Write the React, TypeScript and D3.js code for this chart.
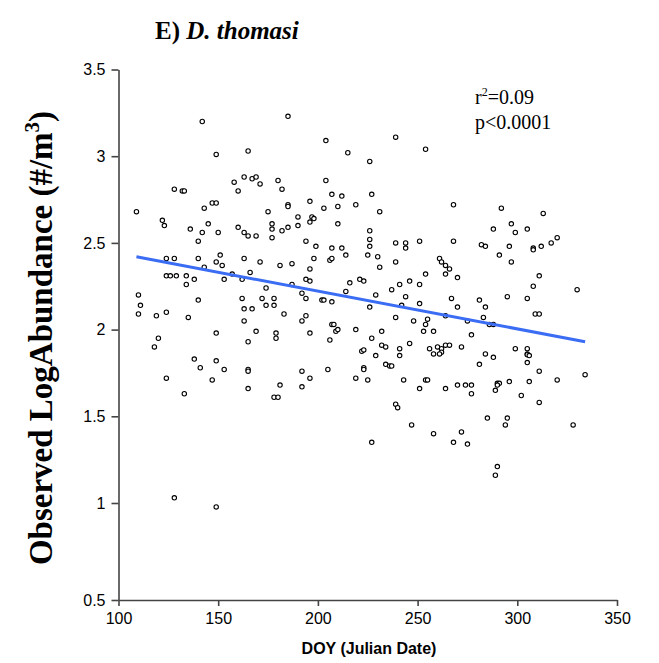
import React, { useRef, useEffect } from "react";
import * as d3 from "d3";

// DOY (x) and observed log abundance (y)
const doy = [
  142, 149, 128, 132, 133, 109, 147, 149, 143, 122, 123, 145, 136, 142, 150, 140,
  185, 204, 165, 158, 163, 167, 169, 171, 160, 180, 182, 204, 207, 196, 203, 175, 185, 185, 190, 197, 198, 196, 190, 185, 177, 177, 182, 160, 163, 165, 169, 177, 194, 199, 207,
  239, 254, 215, 226, 227, 212, 210, 219, 231, 210, 226, 226, 226, 212, 239, 244, 244, 251,
  268, 292, 313, 297, 288, 299, 305, 268, 282, 284, 296, 308, 312, 317, 320,
  124, 128, 140, 149, 143, 124, 126, 129, 134, 134, 138, 110, 111, 110, 119, 124, 140, 135, 149, 120, 118, 138, 149, 141, 124, 147,
  151, 152, 153, 157, 163, 171, 181, 187, 198, 206, 207, 196, 166, 162, 174, 187, 194, 196, 192, 194, 202, 203, 207, 162, 172, 178, 178, 174, 163, 167, 183, 163, 192, 194, 207, 169, 179, 179, 165, 196, 206, 153, 165, 165, 192, 205, 196, 181, 192, 165,
  214, 225, 230, 231, 239, 261, 262, 264, 254, 264, 216, 221, 223, 241, 246, 251, 237, 214, 229, 244, 226, 242, 251, 239, 248, 255, 254, 264, 253, 258, 208, 209, 210, 219, 232, 227, 232, 234, 246, 241, 222, 223, 229, 241, 256, 260, 262, 262, 261, 258, 264, 234, 236, 237, 223, 223, 219, 225, 243, 254, 255, 251, 264,
  291, 297, 308, 311, 266, 270, 308, 267, 295, 305, 281, 284, 270, 309, 311, 283, 275, 286, 288, 277, 266, 272, 299, 305, 305, 305, 306, 284, 288, 281, 305, 311, 270, 274, 277, 290, 291, 290, 296, 306, 320, 289,
  133, 128, 149, 178, 180, 239, 240, 247, 258, 227,
  277, 302, 311, 285, 295, 294, 272, 268, 275, 290, 289,
  330, 328, 334,
];
const logAbundance = [
  3.2, 3.01, 2.81, 2.8, 2.8, 2.68, 2.73, 2.73, 2.7, 2.63, 2.6, 2.61, 2.58, 2.56, 2.56, 2.51,
  3.23, 3.09, 3.03, 2.85, 2.88, 2.87, 2.88, 2.84, 2.8, 2.86, 2.81, 2.86, 2.78, 2.74, 2.7, 2.68, 2.72, 2.71, 2.65, 2.65, 2.64, 2.62, 2.6, 2.59, 2.61, 2.58, 2.57, 2.59, 2.56, 2.54, 2.54, 2.53, 2.51, 2.48, 2.47,
  3.11, 3.04, 3.02, 2.97, 2.78, 2.77, 2.71, 2.72, 2.68, 2.61, 2.57, 2.52, 2.48, 2.47, 2.5, 2.5, 2.47, 2.51,
  2.72, 2.7, 2.67, 2.61, 2.58, 2.56, 2.58, 2.51, 2.49, 2.48, 2.48, 2.47, 2.48, 2.5, 2.53,
  2.41, 2.41, 2.41, 2.39, 2.36, 2.31, 2.31, 2.31, 2.31, 2.26, 2.29, 2.2, 2.14, 2.09, 2.08, 2.1, 2.17, 2.07, 1.98, 1.95, 1.9, 1.83, 1.82, 1.78, 1.72, 1.71,
  2.43, 2.37, 2.29, 2.32, 2.41, 2.39, 2.37, 2.38, 2.41, 2.4, 2.41, 2.35, 2.33, 2.29, 2.24, 2.26, 2.29, 2.28, 2.21, 2.18, 2.17, 2.17, 2.16, 2.18, 2.18, 2.18, 2.14, 2.14, 2.12, 2.12, 2.09, 2.05, 2.05, 2.08, 2.03, 1.99, 1.98, 1.95, 1.93, 1.98, 1.94, 1.77, 1.77, 1.76, 1.76, 1.77, 1.72, 1.68, 1.67, 1.66,
  2.43, 2.43, 2.42, 2.36, 2.39, 2.41, 2.39, 2.37, 2.32, 2.32, 2.27, 2.29, 2.28, 2.26, 2.28, 2.26, 2.23, 2.22, 2.2, 2.19, 2.13, 2.14, 2.15, 2.07, 2.05, 2.06, 2.03, 2.08, 1.99, 1.99, 2.03, 1.99, 2.0, 2.0, 1.99, 1.95, 1.91, 1.9, 1.92, 1.89, 1.875, 1.883, 1.85, 1.85, 1.89, 1.9, 1.89, 1.87, 1.86, 1.86, 1.91, 1.8, 1.79, 1.79, 1.78, 1.77, 1.72, 1.71, 1.71, 1.71, 1.71, 1.66, 1.66,
  2.43, 2.39, 2.46, 2.31, 2.35, 2.3, 2.25, 2.18, 2.19, 2.18, 2.17, 2.13, 2.13, 2.09, 2.09, 2.07, 2.05, 2.03, 2.03, 1.97, 1.91, 1.9, 1.89, 1.89, 1.86, 1.855, 1.85, 1.86, 1.84, 1.8, 1.81, 1.76, 1.68, 1.68, 1.68, 1.69, 1.69, 1.68, 1.7, 1.7, 1.71, 1.65,
  1.63, 1.03, 0.98, 1.61, 1.61, 1.57, 1.55, 1.45, 1.4, 1.35,
  1.63, 1.62, 1.58, 1.49, 1.49, 1.45, 1.41, 1.35, 1.34, 1.21, 1.16,
  2.23, 1.45, 1.74,
];

// fitted line end points
const fitX = [109, 334];
const fitY = [2.42, 1.93];

const xTicks = [100, 150, 200, 250, 300, 350];
const yTicks = [0.5, 1, 1.5, 2, 2.5, 3, 3.5];

const App = () => {
  const svgRef = useRef(null);

  useEffect(() => {
    const svg = d3.select(svgRef.current);
    svg.selectAll("*").remove();

    const x = d3.scaleLinear().domain([100, 350]).range([118.5, 617]);
    // the bottom step of the original axis is drawn a bit taller than the others
    const y = d3.scaleLinear().domain([0.5, 1, 3.5]).range([600, 503, 69.5]);

    const serif = "'Liberation Serif', 'Times New Roman', serif";
    const sans = "'Liberation Sans', Arial, sans-serif";

    // title
    const title = svg.append("text")
      .attr("x", 155)
      .attr("y", 39)
      .style("font-family", serif)
      .style("font-weight", "bold")
      .style("font-size", "25px");
    title.append("tspan").text("E) ");
    title.append("tspan").style("font-style", "italic").text("D. thomasi");

    // points
    svg.append("g")
      .selectAll("circle")
      .data(doy.map((d, i) => [d, logAbundance[i]]))
      .join("circle")
      .attr("cx", d => x(d[0]))
      .attr("cy", d => y(d[1]))
      .attr("r", 2.2)
      .attr("fill", "white")
      .attr("stroke", "black")
      .attr("stroke-width", 1.1);

    // fit
    svg.append("line")
      .attr("x1", x(fitX[0]))
      .attr("y1", y(fitY[0]))
      .attr("x2", x(fitX[1]))
      .attr("y2", y(fitY[1]))
      .attr("stroke", "#3a6cf4")
      .attr("stroke-width", 3);

    const yAxis = svg.append("g")
      .attr("transform", `translate(${x(100)},0)`)
      .call(d3.axisLeft(y).tickValues(yTicks).tickSize(7).tickPadding(6).tickSizeOuter(0).tickFormat(d3.format("")));
    const xAxis = svg.append("g")
      .attr("transform", `translate(0,${y(0.5)})`)
      .call(d3.axisBottom(x).tickValues(xTicks).tickSize(6).tickPadding(7).tickSizeOuter(0));

    [xAxis, yAxis].forEach(a => {
      a.select(".domain").attr("stroke", "#444").attr("stroke-width", 1.6);
      a.selectAll(".tick line").attr("stroke", "#444").attr("stroke-width", 1.6);
      a.selectAll(".tick text")
        .attr("fill", "black")
        .style("font-family", sans)
        .style("font-size", "16px");
    });

    // axis labels
    svg.append("text")
      .attr("x", 369)
      .attr("y", 654)
      .attr("text-anchor", "middle")
      .style("font-family", sans)
      .style("font-weight", "bold")
      .style("font-size", "16px")
      .text("DOY (Julian Date)");

    const yl = svg.append("text")
      .attr("transform", `translate(52,338) rotate(-90)`)
      .attr("text-anchor", "middle")
      .style("font-family", serif)
      .style("font-weight", "bold")
      .style("font-size", "33px");
    yl.append("tspan").text("Observed LogAbundance (#/m");
    yl.append("tspan").attr("dy", -13).style("font-size", "21px").text("3");
    yl.append("tspan").attr("dy", 13).text(")");

    // stats
    const stats = svg.append("g")
      .style("font-family", serif)
      .style("font-size", "20px");
    const r2 = stats.append("text").attr("x", 475).attr("y", 104);
    r2.append("tspan").text("r");
    r2.append("tspan").attr("dy", -8).style("font-size", "12px").text("2");
    r2.append("tspan").attr("dy", 8).text("=0.09");
    stats.append("text").attr("x", 475).attr("y", 129).text("p<0.0001");
  }, []);

  return (
    <svg ref={svgRef} width={659} height={663} style={{ position: "absolute", left: 0, top: 0, background: "white" }}></svg>
  );
};

export default App;
